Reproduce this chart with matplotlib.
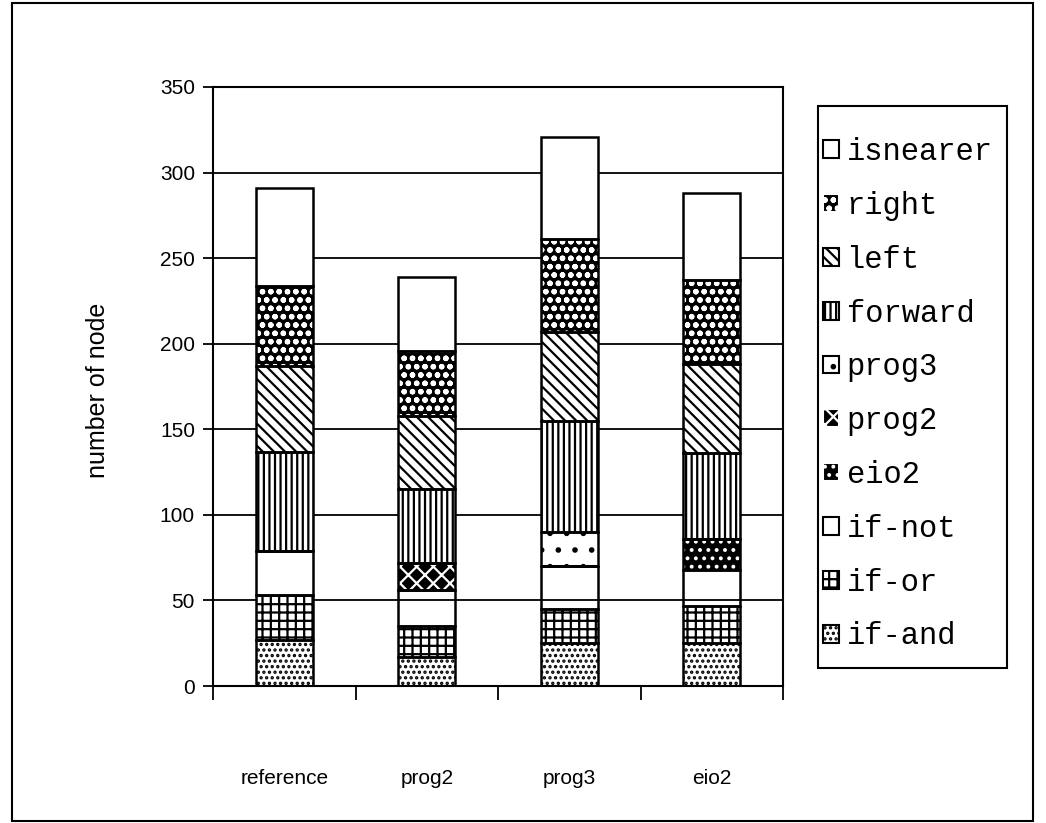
import numpy as np
import matplotlib
matplotlib.use("Agg")
import matplotlib.pyplot as plt
from matplotlib.patches import Patch, Rectangle

# Nombre de noeuds par primitive, pour chaque programme
categories = ["reference", "prog2", "prog3", "eio2"]
if_and = [27, 17, 25, 25]
if_or = [26, 18, 20, 22]
if_not = [26, 21, 25, 21]
eio2 = [0, 0, 0, 18]
prog2 = [0, 16, 0, 0]
prog3 = [0, 0, 20, 0]
forward = [58, 43, 65, 50]
left = [50, 43, 52, 52]
right = [47, 38, 54, 49]
isnearer = [57, 43, 60, 51]

series = [
    ("if-and", if_and),
    ("if-or", if_or),
    ("if-not", if_not),
    ("eio2", eio2),
    ("prog2", prog2),
    ("prog3", prog3),
    ("forward", forward),
    ("left", left),
    ("right", right),
    ("isnearer", isnearer),
]

# (couleur de fond, motif, couleur du motif)
styles = {
    "if-and": ("white", "...", "black"),
    "if-or": ("white", "++", "black"),
    "if-not": ("none", None, "black"),
    "eio2": ("black", "..", "white"),
    "prog2": ("black", "xx", "white"),
    "prog3": ("white", ".", "black"),
    "forward": ("white", "|||", "black"),
    "left": ("white", "\\\\\\", "black"),
    "right": ("black", "oo", "white"),
    "isnearer": ("white", None, "black"),
}

plt.rcParams["font.family"] = ["Liberation Sans", "DejaVu Sans"]
plt.rcParams["hatch.linewidth"] = 1.6

W, H = 1046, 823
fig = plt.figure(figsize=(W / 100, H / 100), dpi=100)
ax = fig.add_axes([213 / W, 1 - 686 / H, 570 / W, 599 / H])

x = np.arange(len(categories))
largeur = 0.4
bas = np.zeros(len(categories))
for nom, valeurs in series:
    fond, motif, couleur_motif = styles[nom]
    valeurs = np.array(valeurs, dtype=float)
    ax.bar(x, valeurs, largeur, bottom=bas, color=fond, hatch=motif,
           edgecolor=couleur_motif, linewidth=0, zorder=2)
    ax.bar(x, valeurs, largeur, bottom=bas, fill=False,
           edgecolor="black", linewidth=1.8, zorder=3)
    bas += valeurs

ax.set_xlim(-0.5, len(categories) - 0.5)
ax.set_ylim(0, 350)
ax.set_yticks(np.arange(0, 351, 50))
ax.yaxis.grid(True, color="black", linewidth=1.3)
ax.set_axisbelow(True)

# traits de séparation entre catégories, étiquettes centrées en dessous
ax.set_xticks(np.arange(-0.5, len(categories), 1.0))
ax.set_xticklabels([])
ax.set_xticks(x, minor=True)
ax.set_xticklabels(categories, minor=True, fontsize=15)
ax.tick_params(axis="x", which="major", direction="out", length=10, width=1.3)
ax.tick_params(axis="x", which="minor", length=0, pad=60)
ax.tick_params(axis="y", direction="out", length=7, width=1.3, labelsize=15, pad=6)

for s in ax.spines.values():
    s.set_linewidth(1.5)

ax.set_ylabel("number of node", fontsize=18)
ax.yaxis.set_label_coords(-0.181, 0.494)

# légende : entrées dans l'ordre inverse de l'empilement
handles = []
for nom, _ in reversed(series):
    fond, motif, couleur_motif = styles[nom]
    handles.append(Patch(facecolor="white" if fond == "none" else fond,
                         hatch=motif, edgecolor=couleur_motif, linewidth=1.5))
noms = [nom for nom, _ in reversed(series)]
leg = fig.legend(handles, noms, loc="upper left",
                 bbox_to_anchor=(823 / W, 1 - 137 / H),
                 prop={"family": "Liberation Mono", "size": 22},
                 handlelength=0.52, handleheight=0.52, handletextpad=0.25,
                 labelspacing=0.78, borderpad=0, borderaxespad=0,
                 frameon=False)
fig.patches.append(Rectangle((818 / W, 1 - 668 / H), 189 / W, 562 / H,
                             transform=fig.transFigure, fill=False,
                             edgecolor="black", linewidth=1.5))

# cadre extérieur du graphique
fig.patches.append(Rectangle((12 / W, 2 / H), 1021 / W, 818 / H,
                             transform=fig.transFigure, fill=False,
                             edgecolor="black", linewidth=1.5))

fig.savefig("out.png", dpi=100)
